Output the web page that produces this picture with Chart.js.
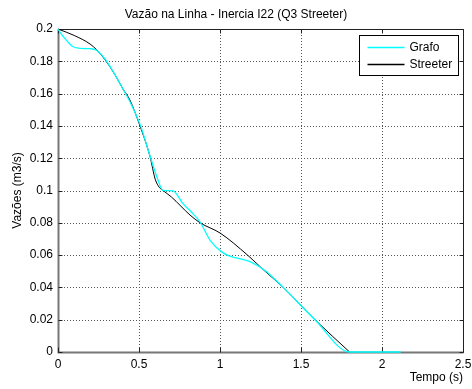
<!DOCTYPE html>
<html>
<head>
<meta charset="utf-8">
<script src="https://cdn.jsdelivr.net/npm/chart.js@4"></script>
<style>
  html, body { margin: 0; padding: 0; background: #fff; }
  #wrap { width: 472px; height: 389px; }
</style>
</head>
<body>
<div id="wrap"><canvas id="myChart" width="472" height="389"></canvas></div>
<script>
// Grafo (cyan)
var tempoGrafo = [0, 0.02, 0.043, 0.07, 0.093, 0.136, 0.2, 0.235, 0.29, 0.35, 0.4, 0.444, 0.51, 0.56, 0.617, 0.648, 0.71, 0.77, 0.82, 0.877, 0.94, 1.01, 1.06, 1.185, 1.278, 1.39, 1.586, 1.8, 2.115];
var vazaoGrafo = [0.2, 0.197, 0.194, 0.191, 0.189, 0.188, 0.1878, 0.187, 0.1815, 0.172, 0.163, 0.155, 0.140, 0.124, 0.1065, 0.1, 0.0998, 0.092, 0.087, 0.0805, 0.069, 0.062, 0.0594, 0.056, 0.0505, 0.04, 0.02, 0, 0];

// Streeter (black)
var tempoStreeter = [0, 0.1, 0.198, 0.24, 0.29, 0.35, 0.4, 0.444, 0.506, 0.568, 0.6, 0.625, 0.648, 0.7, 0.815, 0.877, 1.0, 1.17, 1.278, 1.39, 1.586, 1.8];
var vazaoStreeter = [0.2, 0.196, 0.1907, 0.187, 0.181, 0.172, 0.163, 0.156, 0.14, 0.121, 0.107, 0.102, 0.1, 0.096, 0.0848, 0.08, 0.0737, 0.06, 0.05, 0.04, 0.02, 0];

var xTicks = [0, 0.5, 1, 1.5, 2, 2.5];
var yTicks = [0, 0.02, 0.04, 0.06, 0.08, 0.1, 0.12, 0.14, 0.16, 0.18, 0.2];

var legendNames = ["Grafo", "Streeter"];
var legendColors = ["#00ffff", "#000000"];

function pares(xs, ys) {
    var out = [];
    for (var i = 0; i < xs.length; i++) {
        out.push({ x: xs[i], y: ys[i] });
    }
    return out;
}

var FONT = "'Liberation Sans', Arial, Helvetica, sans-serif";

// dotted grid + frame + inward ticks, under the lines (matlab style)
var grade = {
    id: 'grade',
    beforeDatasetsDraw: function (chart) {
        var ctx = chart.ctx;
        var a = chart.chartArea;
        var sx = chart.scales.x, sy = chart.scales.y;
        var L = Math.round(a.left) + 0.5, R = Math.round(a.right) + 0.5;
        var T = Math.round(a.top) + 0.5, B = Math.round(a.bottom) + 0.5;
        ctx.save();
        ctx.strokeStyle = '#555';
        ctx.lineWidth = 1;
        ctx.setLineDash([1, 2]);
        ctx.beginPath();
        xTicks.forEach(function (v) {
            var px = Math.round(sx.getPixelForValue(v)) + 0.5;
            ctx.moveTo(px, a.top); ctx.lineTo(px, a.bottom);
        });
        yTicks.forEach(function (v) {
            var py = Math.round(sy.getPixelForValue(v)) + 0.5;
            ctx.moveTo(a.left, py); ctx.lineTo(a.right, py);
        });
        ctx.stroke();
        ctx.setLineDash([]);

        ctx.strokeStyle = '#222';
        ctx.beginPath();
        ctx.moveTo(L, T); ctx.lineTo(R, T); ctx.lineTo(R, B);
        ctx.stroke();
        ctx.strokeStyle = '#777';
        ctx.lineWidth = 2;
        ctx.beginPath();
        ctx.moveTo(L, T); ctx.lineTo(L, B); ctx.lineTo(R, B);
        ctx.stroke();

        ctx.lineWidth = 1;
        ctx.strokeStyle = '#222';
        ctx.beginPath();
        xTicks.forEach(function (v) {
            var px = Math.round(sx.getPixelForValue(v)) + 0.5;
            ctx.moveTo(px, B); ctx.lineTo(px, B - 5);
            ctx.moveTo(px, T); ctx.lineTo(px, T + 4);
        });
        yTicks.forEach(function (v) {
            var py = Math.round(sy.getPixelForValue(v)) + 0.5;
            ctx.moveTo(L, py); ctx.lineTo(L + 4, py);
            ctx.moveTo(R, py); ctx.lineTo(R - 4, py);
        });
        ctx.stroke();
        ctx.restore();
    }
};

// boxed legend on top
var legenda = {
    id: 'legenda',
    afterDraw: function (chart) {
        var ctx = chart.ctx;
        var a = chart.chartArea;
        var R = Math.round(a.right) + 0.5, T = Math.round(a.top) + 0.5;
        ctx.save();
        var bx = R - 104, by = T + 6, bw = 99, bh = 40;
        ctx.fillStyle = '#fff';
        ctx.fillRect(bx, by, bw, bh);
        ctx.strokeStyle = '#000';
        ctx.lineWidth = 1;
        ctx.strokeRect(bx, by, bw, bh);
        ctx.font = '12px ' + FONT;
        ctx.textBaseline = 'middle';
        ctx.textAlign = 'left';
        for (var i = 0; i < legendNames.length; i++) {
            var ly = Math.round(by + 11 + i * 17) + 0.5;
            ctx.strokeStyle = legendColors[i];
            ctx.lineWidth = 1.3;
            ctx.beginPath();
            ctx.moveTo(bx + 8, ly);
            ctx.lineTo(bx + 45, ly);
            ctx.stroke();
            ctx.fillStyle = '#000';
            ctx.fillText(legendNames[i], bx + 50, ly);
        }
        ctx.restore();
    }
};

var ctx = document.getElementById('myChart').getContext('2d');
var chart = new Chart(ctx, {
    type: 'line',
    data: {
        datasets: [{
            label: legendNames[0],
            data: pares(tempoGrafo, vazaoGrafo),
            borderColor: legendColors[0],
            borderWidth: 1.3,
            pointRadius: 0,
            fill: false,
            clip: 4,
            cubicInterpolationMode: 'monotone'
        }, {
            label: legendNames[1],
            data: pares(tempoStreeter, vazaoStreeter),
            borderColor: legendColors[1],
            borderWidth: 1,
            pointRadius: 0,
            fill: false,
            clip: 4,
            cubicInterpolationMode: 'monotone'
        }]
    },
    options: {
        responsive: false,
        animation: false,
        layout: { padding: { left: 0, right: 0, top: 0, bottom: 0 } },
        plugins: {
            legend: { display: false },
            tooltip: { enabled: false },
            title: {
                display: true,
                text: 'Vazão na Linha - Inercia I22 (Q3 Streeter)',
                color: '#000',
                font: { family: FONT, size: 12, weight: 'normal' },
                padding: { top: 7, bottom: 7.6 }
            }
        },
        scales: {
            x: {
                type: 'linear',
                min: 0,
                max: 2.5,
                afterBuildTicks: function (s) { s.ticks = xTicks.map(function (v) { return { value: v }; }); },
                afterFit: function (s) { s.height = 37; s.paddingLeft = 0; s.paddingRight = 9; },
                ticks: {
                    color: '#000',
                    font: { family: FONT, size: 12 },
                    padding: 5,
                    maxRotation: 0,
                    callback: function (v) { return String(v); }
                },
                grid: { display: false, drawTicks: false },
                border: { display: false },
                title: {
                    display: true,
                    text: 'Tempo (s)',
                    align: 'end',
                    color: '#000',
                    font: { family: FONT, size: 12 },
                    padding: { top: 0, bottom: 4 }
                }
            },
            y: {
                type: 'linear',
                min: 0,
                max: 0.2,
                afterBuildTicks: function (s) { s.ticks = yTicks.map(function (v) { return { value: v }; }); },
                afterFit: function (s) { s.width = 58; },
                ticks: {
                    color: '#000',
                    font: { family: FONT, size: 12 },
                    padding: 5,
                    callback: function (v) { return String(Math.round(v * 100) / 100); }
                },
                grid: { display: false, drawTicks: false },
                border: { display: false },
                title: {
                    display: true,
                    text: 'Vazões (m3/s)',
                    color: '#000',
                    font: { family: FONT, size: 12 },
                    padding: { top: 10, bottom: 0 }
                }
            }
        }
    },
    plugins: [grade, legenda]
});
</script>
</body>
</html>
